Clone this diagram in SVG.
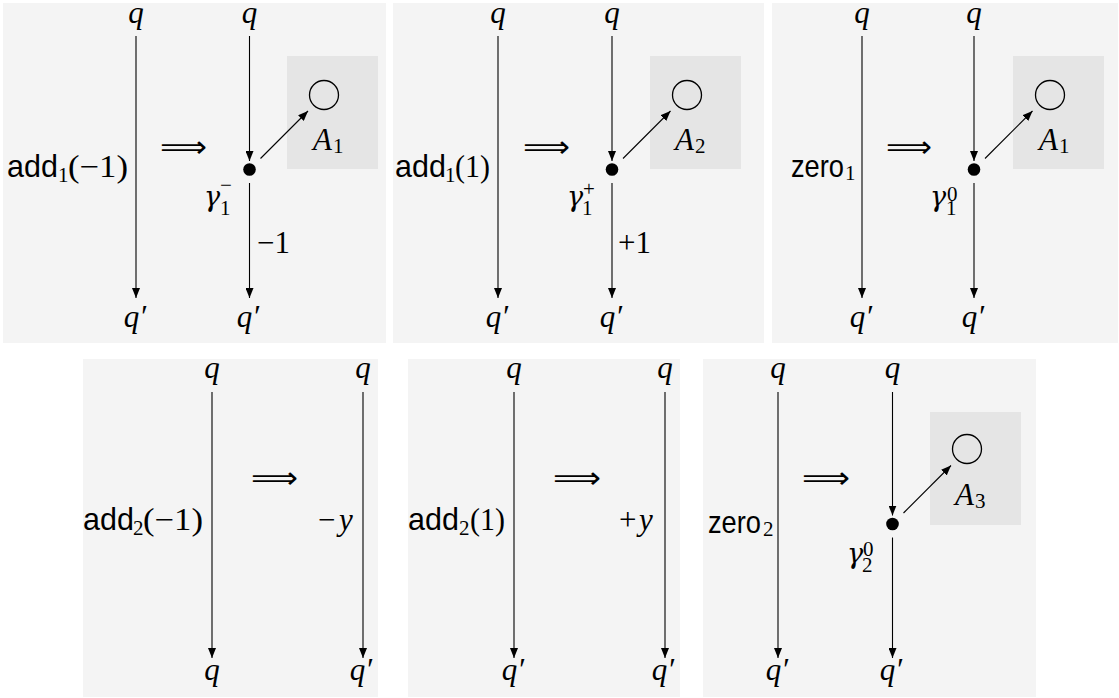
<svg xmlns="http://www.w3.org/2000/svg" width="1119" height="698" viewBox="0 0 1119 698">
<style>
.bg{fill:#f4f4f4}
.box{fill:#e5e5e5}
.m{font-family:"Liberation Serif",serif;font-style:italic;font-size:31px;fill:#000}
.g{font-family:"DejaVu Serif",serif;font-style:italic;font-size:27px;fill:#000}
.r{font-family:"Liberation Serif",serif;font-style:normal;font-size:31px;fill:#000}
.s{font-family:"Liberation Sans",sans-serif;font-style:normal;font-size:30.5px;fill:#000}
.sub{font-family:"Liberation Serif",serif;font-style:normal;font-size:21px}
.im{font-family:"DejaVu Sans",sans-serif;font-size:30px;fill:#000}
.e{stroke:#000;stroke-width:1.1;fill:none;marker-end:url(#ah)}
.dot{fill:#000}
.circ{fill:none;stroke:#000;stroke-width:1.3}
</style>
<defs>
<marker id="ah" viewBox="0 0 10 8" refX="10" refY="4" markerWidth="10" markerHeight="8" markerUnits="userSpaceOnUse" orient="auto"><path d="M0,0 L10,4 L0,8 z" fill="#000"/></marker>
</defs>
<g id="panels">
<rect id="p1" class="bg" x="3" y="3" width="383" height="340"/>
<rect id="p2" class="bg" x="393" y="3" width="371" height="340"/>
<rect id="p3" class="bg" x="772" y="3" width="346" height="340"/>
<rect id="p4" class="bg" x="83" y="359" width="295" height="338"/>
<rect id="p5" class="bg" x="408" y="359" width="272" height="338"/>
<rect id="p6" class="bg" x="703" y="359" width="333" height="338"/>
</g>
<g id="boxes">
<g id="A1a"><rect class="box" x="287" y="56" width="91" height="113"/><circle class="circ" cx="324" cy="95" r="14.5"/><text class="m" y="150"><tspan x="313">A</tspan><tspan class="sub" x="333" dy="3">1</tspan></text></g>
<g id="A2"><rect class="box" x="650" y="56" width="91" height="113"/><circle class="circ" cx="687" cy="95" r="14.5"/><text class="m" y="150"><tspan x="675">A</tspan><tspan class="sub" x="695" dy="3">2</tspan></text></g>
<g id="A1b"><rect class="box" x="1013" y="56" width="91" height="113"/><circle class="circ" cx="1050" cy="95" r="14.5"/><text class="m" y="150"><tspan x="1039">A</tspan><tspan class="sub" x="1059" dy="3">1</tspan></text></g>
<g id="A3"><rect class="box" x="930" y="412" width="91" height="113"/><circle class="circ" cx="967" cy="449" r="14.5"/><text class="m" y="505"><tspan x="955">A</tspan><tspan class="sub" x="975" dy="3">3</tspan></text></g>
</g>
<g id="dots">
<circle id="g1m" class="dot" cx="249.5" cy="169.5" r="6.3"/>
<circle id="g1p" class="dot" cx="612" cy="169.5" r="6.3"/>
<circle id="g10" class="dot" cx="974" cy="169.5" r="6.3"/>
<circle id="g20" class="dot" cx="892.5" cy="524" r="6.3"/>
</g>
<g id="connectors">
<line class="e" x1="136" y1="36" x2="136" y2="298"/>
<line class="e" x1="249.5" y1="36" x2="249.5" y2="161"/>
<line class="e" x1="249.5" y1="183" x2="249.5" y2="298"/>
<line class="e" x1="260.5" y1="158.5" x2="308" y2="111"/>
<line class="e" x1="498" y1="36" x2="498" y2="298"/>
<line class="e" x1="612" y1="36" x2="612" y2="161"/>
<line class="e" x1="612" y1="183" x2="612" y2="298"/>
<line class="e" x1="623" y1="158.5" x2="670.5" y2="111"/>
<line class="e" x1="862" y1="36" x2="862" y2="298"/>
<line class="e" x1="974" y1="36" x2="974" y2="161"/>
<line class="e" x1="974" y1="183" x2="974" y2="298"/>
<line class="e" x1="985" y1="158.5" x2="1032.5" y2="111"/>
<line class="e" x1="212" y1="392" x2="212" y2="658"/>
<line class="e" x1="363" y1="392" x2="363" y2="658"/>
<line class="e" x1="514" y1="392" x2="514" y2="658"/>
<line class="e" x1="665" y1="392" x2="665" y2="658"/>
<line class="e" x1="778" y1="392" x2="778" y2="658"/>
<line class="e" x1="892.5" y1="392" x2="892.5" y2="515.5"/>
<line class="e" x1="892.5" y1="537.5" x2="892.5" y2="658"/>
<line class="e" x1="903.5" y1="513" x2="951" y2="465.5"/>
</g>
<g id="labels">
<g id="states" class="m" text-anchor="middle">
<text x="136" y="23">q</text><text x="249.5" y="23">q</text>
<text x="135" y="327">q′</text><text x="248" y="327">q′</text>
<text x="498" y="23">q</text><text x="612" y="23">q</text>
<text x="497" y="327">q′</text><text x="611" y="327">q′</text>
<text x="862" y="23">q</text><text x="974" y="23">q</text>
<text x="861" y="327">q′</text><text x="973" y="327">q′</text>
<text x="212" y="378">q</text><text x="363" y="378">q</text>
<text x="212" y="680">q</text><text x="361" y="680">q′</text>
<text x="514" y="378">q</text><text x="665" y="378">q</text>
<text x="513" y="680">q′</text><text x="663" y="680">q′</text>
<text x="778" y="378">q</text><text x="892.5" y="378">q</text>
<text x="777" y="680">q′</text><text x="891" y="680">q′</text>
</g>
<g id="implies" class="im">
<text x="160" y="157" textLength="47" lengthAdjust="spacingAndGlyphs">⟹</text>
<text x="523" y="157" textLength="47" lengthAdjust="spacingAndGlyphs">⟹</text>
<text x="886" y="157" textLength="46" lengthAdjust="spacingAndGlyphs">⟹</text>
<text x="251" y="488" textLength="47" lengthAdjust="spacingAndGlyphs">⟹</text>
<text x="553" y="488" textLength="48" lengthAdjust="spacingAndGlyphs">⟹</text>
<text x="802" y="488" textLength="48" lengthAdjust="spacingAndGlyphs">⟹</text>
</g>
<g id="ops">
<text class="r" y="177"><tspan class="s" x="7">add</tspan><tspan class="sub" x="58" dy="5">1</tspan><tspan x="68" dy="-5" textLength="60" lengthAdjust="spacingAndGlyphs">(−1)</tspan></text>
<text class="r" y="177"><tspan class="s" x="395">add</tspan><tspan class="sub" x="445" dy="5">1</tspan><tspan x="455" dy="-5" textLength="35" lengthAdjust="spacingAndGlyphs">(1)</tspan></text>
<text class="r" y="177"><tspan class="s" x="791" textLength="53" lengthAdjust="spacingAndGlyphs">zero</tspan><tspan class="sub" x="845" dy="3">1</tspan></text>
<text class="r" y="530"><tspan class="s" x="83">add</tspan><tspan class="sub" x="133" dy="5">2</tspan><tspan x="143" dy="-5" textLength="60" lengthAdjust="spacingAndGlyphs">(−1)</tspan></text>
<text class="r" y="530"><tspan class="s" x="408">add</tspan><tspan class="sub" x="459" dy="5">2</tspan><tspan x="470" dy="-5" textLength="35" lengthAdjust="spacingAndGlyphs">(1)</tspan></text>
<text class="r" y="533"><tspan class="s" x="708" textLength="53" lengthAdjust="spacingAndGlyphs">zero</tspan><tspan class="sub" x="763" dy="3">2</tspan></text>
</g>
<g id="gammas" class="g">
<text y="206"><tspan x="204">γ</tspan><tspan class="sub" x="220" dy="9">1</tspan><tspan class="sub" x="220" dy="-23">−</tspan></text>
<text y="206"><tspan x="567">γ</tspan><tspan class="sub" x="582" dy="9">1</tspan><tspan class="sub" x="583" dy="-19">+</tspan></text>
<text y="206"><tspan x="930">γ</tspan><tspan class="sub" x="946" dy="9">1</tspan><tspan class="sub" x="947" dy="-14">0</tspan></text>
<text y="563"><tspan x="847">γ</tspan><tspan class="sub" x="862" dy="9">2</tspan><tspan class="sub" x="863" dy="-16">0</tspan></text>
</g>
<g id="weights" class="r">
<text x="257" y="253">−1</text>
<text x="618" y="253">+1</text>
<text y="530"><tspan x="318">−</tspan><tspan class="m" x="339">y</tspan></text>
<text y="530"><tspan x="619">+</tspan><tspan class="m" x="639">y</tspan></text>
</g>
</g>
</svg>
